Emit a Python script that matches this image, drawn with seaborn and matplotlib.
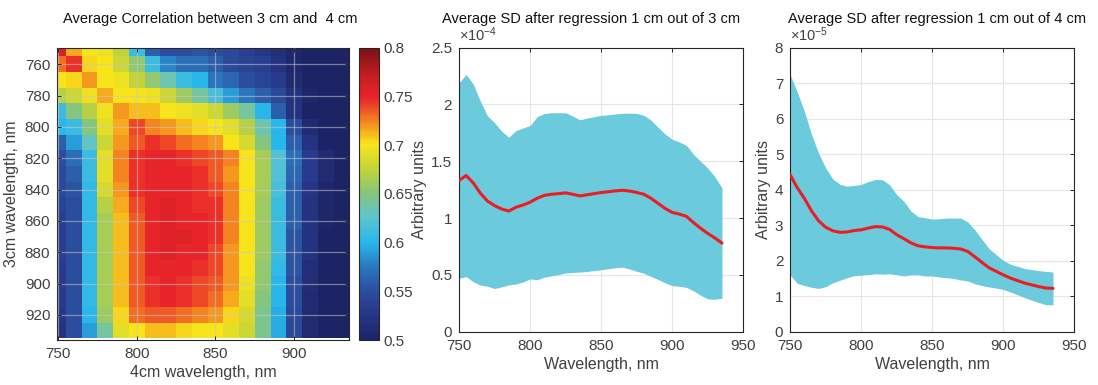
import numpy as np
import pandas as pd
import matplotlib
matplotlib.use("Agg")
import matplotlib.pyplot as plt
import seaborn as sns
from matplotlib.colors import LinearSegmentedColormap
from matplotlib.ticker import FuncFormatter

# ---------------- data ----------------
# correlation heatmap grid (nm), rows = 3 cm wavelength, cols = 4 cm wavelength
grid_wl = [750, 760, 770, 780, 790, 800, 810, 820, 830, 840,
           850, 860, 870, 880, 890, 900, 910, 920, 930]
corr_rows = [
    [.76, .715, .70, .695, .675, .61, .56, .55, .55, .555, .55, .545, .535, .525, .515, .505, .50, .50, .50],
    [.73, .745, .705, .70, .68, .655, .61, .58, .57, .57, .56, .545, .54, .535, .52, .505, .50, .50, .50],
    [.70, .705, .72, .70, .695, .675, .655, .635, .61, .60, .575, .565, .55, .54, .53, .51, .50, .50, .50],
    [.67, .68, .695, .715, .70, .70, .695, .68, .66, .64, .615, .59, .575, .56, .545, .52, .505, .50, .50],
    [.61, .65, .67, .695, .72, .71, .71, .70, .695, .69, .68, .66, .64, .60, .56, .52, .50, .50, .50],
    [.60, .61, .65, .69, .715, .74, .725, .72, .71, .705, .70, .69, .67, .635, .60, .55, .51, .50, .50],
    [.56, .59, .63, .68, .72, .735, .745, .74, .73, .725, .72, .70, .685, .65, .60, .56, .52, .50, .50],
    [.55, .57, .61, .69, .725, .745, .75, .75, .745, .74, .735, .725, .70, .665, .62, .57, .53, .51, .50],
    [.545, .56, .61, .69, .725, .745, .75, .75, .75, .745, .735, .72, .70, .665, .62, .565, .53, .51, .50],
    [.545, .555, .605, .685, .72, .745, .75, .75, .75, .745, .74, .725, .70, .665, .615, .56, .525, .505, .50],
    [.54, .55, .605, .67, .715, .74, .75, .755, .75, .745, .745, .725, .70, .66, .61, .56, .52, .505, .50],
    [.535, .55, .605, .665, .71, .735, .75, .755, .75, .75, .745, .725, .70, .66, .61, .56, .52, .505, .50],
    [.535, .55, .605, .665, .71, .735, .75, .755, .755, .75, .745, .725, .70, .66, .61, .555, .52, .50, .50],
    [.535, .55, .605, .665, .71, .735, .75, .755, .75, .75, .74, .72, .70, .66, .61, .555, .52, .50, .50],
    [.53, .55, .605, .665, .71, .735, .75, .75, .75, .745, .74, .72, .70, .655, .605, .555, .515, .50, .50],
    [.53, .55, .605, .665, .71, .735, .745, .75, .745, .74, .735, .72, .695, .655, .60, .55, .515, .50, .50],
    [.53, .55, .605, .665, .71, .735, .745, .75, .745, .74, .73, .715, .69, .65, .60, .55, .51, .50, .50],
    [.525, .55, .60, .66, .705, .73, .735, .735, .73, .725, .72, .705, .685, .645, .595, .545, .51, .50, .50],
    [.52, .55, .59, .64, .69, .70, .71, .71, .705, .70, .70, .69, .68, .645, .595, .545, .51, .50, .50],
]

# SD curves (wavelength step 5 nm)
wavelength = list(range(750, 940, 5))
mean_3cm = [1.33, 1.375, 1.31, 1.22, 1.15, 1.11, 1.08, 1.062, 1.095, 1.115,
            1.14, 1.175, 1.20, 1.21, 1.215, 1.222, 1.21, 1.195, 1.205, 1.215,
            1.225, 1.232, 1.24, 1.245, 1.238, 1.226, 1.21, 1.175, 1.13, 1.085,
            1.05, 1.035, 1.015, 0.96, 0.91, 0.865, 0.825, 0.78]
sd_3cm = [0.86, 0.89, 0.87, 0.81, 0.75, 0.73, 0.685, 0.65, 0.675, 0.678,
          0.675, 0.718, 0.72, 0.718, 0.712, 0.705, 0.688, 0.67, 0.675, 0.677,
          0.68, 0.677, 0.677, 0.677, 0.686, 0.695, 0.695, 0.688, 0.67, 0.655,
          0.644, 0.635, 0.625, 0.60, 0.59, 0.575, 0.54, 0.485]
mean_4cm = [4.41, 4.05, 3.75, 3.40, 3.12, 2.94, 2.84, 2.80, 2.81, 2.85,
            2.87, 2.92, 2.96, 2.95, 2.88, 2.73, 2.62, 2.50, 2.42, 2.39,
            2.37, 2.36, 2.36, 2.35, 2.33, 2.26, 2.11, 1.95, 1.80, 1.70,
            1.60, 1.51, 1.44, 1.37, 1.32, 1.27, 1.23, 1.22]
sd_4cm = [2.82, 2.69, 2.45, 2.15, 1.90, 1.67, 1.46, 1.35, 1.29, 1.27,
          1.28, 1.31, 1.33, 1.33, 1.25, 1.13, 1.05, 0.90, 0.82, 0.82,
          0.80, 0.82, 0.84, 0.85, 0.87, 0.83, 0.76, 0.65, 0.54, 0.47,
          0.41, 0.39, 0.40, 0.41, 0.43, 0.45, 0.47, 0.46]
scale_3cm = 1e-4
scale_4cm = 1e-5

heat_xticks = [750, 800, 850, 900]
heat_yticks = [760, 780, 800, 820, 840, 860, 880, 900, 920]
cbar_ticks = [0.5, 0.55, 0.6, 0.65, 0.7, 0.75, 0.8]
line_xticks = [750, 800, 850, 900, 950]
ticks_3cm = [0, 0.5, 1, 1.5, 2, 2.5]
ticks_4cm = [0, 1, 2, 3, 4, 5, 6, 7, 8]

# ---------------- style ----------------
sns.set_style("white")
plt.rcParams['font.family'] = ['Liberation Sans', 'DejaVu Sans']
plt.rcParams['mathtext.fontset'] = 'custom'
plt.rcParams['mathtext.rm'] = 'Liberation Sans'
plt.rcParams['mathtext.it'] = 'Liberation Sans:italic'

TXT = '#262626'
TICKC = '#404040'
BAND = '#6BCADB'
RED = '#EC1C24'

cmap = LinearSegmentedColormap.from_list('corr', [
    (0.00, '#1d2465'), (0.10, '#283a8c'), (0.17, '#2b4f9f'), (0.25, '#2a78bf'),
    (0.33, '#27b6ec'), (0.42, '#5ec4cf'), (0.50, '#84c57f'), (0.58, '#bfd23c'),
    (0.67, '#f9e51a'), (0.75, '#f58220'), (0.83, '#e8242a'), (0.90, '#c81e24'),
    (1.00, '#7a1214')])

W, H = 1098, 385
fig = plt.figure(figsize=(W / 100, H / 100), dpi=100)

def frac(l, t, r, b):
    return [l / W, 1 - b / H, (r - l) / W, (b - t) / H]

ax1 = fig.add_axes(frac(57.3, 47.7, 349.3, 340))
cax = fig.add_axes(frac(359.3, 47.7, 379.3, 340))
ax2 = fig.add_axes(frac(459, 47.7, 743.3, 331.7))
ax3 = fig.add_axes(frac(790.3, 47.7, 1074.3, 331.7))

# ---------------- heatmap ----------------
corr_df = pd.DataFrame(corr_rows, index=grid_wl, columns=grid_wl)
sns.heatmap(corr_df, ax=ax1, cbar_ax=cax, cmap=cmap, vmin=0.5, vmax=0.8,
            xticklabels=False, yticklabels=False)

def to_u(nm):
    return (nm - 745) / 10.0

ax1.set_xlim(to_u(749.5), to_u(935))
ax1.set_ylim(to_u(936), to_u(749.5))
ax1.set_xticks([to_u(v) for v in heat_xticks])
ax1.set_xticklabels([str(v) for v in heat_xticks])
ax1.set_yticks([to_u(v) for v in heat_yticks])
ax1.set_yticklabels([str(v) for v in heat_yticks])
ax1.tick_params(axis='both', direction='in', length=3, width=0.7, colors=TXT,
                labelcolor=TICKC, labelsize=11, top=True, right=True,
                bottom=True, left=True, pad=5)
ax1.set_axisbelow(False)
ax1.grid(True, color='#c8c8c8', alpha=0.55, linewidth=0.9)
for s in ax1.spines.values():
    s.set_visible(True)
    s.set_color(TXT)
    s.set_linewidth(0.8)
ax1.set_xlabel('4cm wavelength, nm', fontsize=11.5, color=TICKC, labelpad=3)
ax1.set_ylabel('3cm wavelength, nm', fontsize=11.5, color=TICKC, labelpad=4)
ax1.set_title('Average Correlation between 3 cm and  4 cm', fontsize=10.5,
              color='#111111', pad=18, x=0.523)

cb = ax1.collections[0].colorbar
cb.set_ticks(cbar_ticks)
cb.set_ticklabels(['0.5', '0.55', '0.6', '0.65', '0.7', '0.75', '0.8'])
cb.ax.tick_params(direction='in', length=3, width=0.7, colors=TXT,
                  labelcolor=TICKC, labelsize=11, pad=3)
cb.outline.set_edgecolor(TXT)
cb.outline.set_linewidth(0.8)

# ---------------- SD panels ----------------
def sd_panel(ax, mean, sd, scale, yticks, ymax, title, title_x, exp_txt):
    m = np.array(mean) * scale
    s = np.array(sd) * scale
    ax.fill_between(wavelength, m - s, m + s, color=BAND, linewidth=0, zorder=2)
    sns.lineplot(x=wavelength, y=m, ax=ax, color=RED, linewidth=2.2, zorder=3)
    ax.set_xlim(750, 950)
    ax.set_ylim(0, ymax * scale)
    ax.set_xticks(line_xticks)
    ax.set_yticks([v * scale for v in yticks])
    ax.yaxis.set_major_formatter(FuncFormatter(lambda v, p: f"{v / scale:g}"))
    ax.grid(True, color='#e6e6e6', linewidth=0.8)
    ax.set_axisbelow(True)
    ax.tick_params(axis='both', direction='in', length=3, width=0.7, colors=TXT,
                   labelcolor=TICKC, labelsize=11, top=True, right=True, pad=5)
    for sp in ax.spines.values():
        sp.set_visible(True)
        sp.set_color(TXT)
        sp.set_linewidth(0.8)
    ax.set_xlabel('Wavelength, nm', fontsize=11.5, color=TICKC, labelpad=3)
    ax.set_ylabel('Arbitrary units', fontsize=11.5, color=TICKC, labelpad=2.5)
    ax.set_title(title, fontsize=10.5, color='#111111', pad=18, x=title_x)
    ax.text(0.0, 1.012, exp_txt, transform=ax.transAxes, fontsize=10.5,
            color=TICKC, ha='left', va='bottom')

sd_panel(ax2, mean_3cm, sd_3cm, scale_3cm, ticks_3cm, 2.5,
         'Average SD after regression 1 cm out of 3 cm', 0.464,
         r'$\times\mathregular{10^{-4}}$')
sd_panel(ax3, mean_4cm, sd_4cm, scale_4cm, ticks_4cm, 8,
         'Average SD after regression 1 cm out of 4 cm', 0.516,
         r'$\times\mathregular{10^{-5}}$')

fig.savefig('out.png', dpi=100)
